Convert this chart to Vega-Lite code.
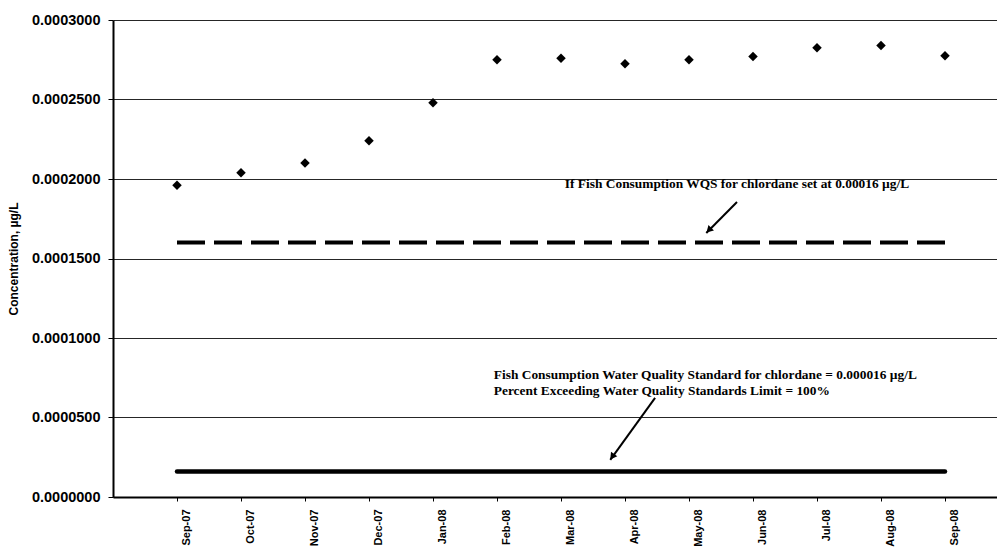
{
  "$schema": "https://vega.github.io/schema/vega-lite/v6.json",
  "width": 896,
  "height": 477,
  "autosize": {"type": "none"},
  "padding": {"left": 113, "top": 20, "right": 0, "bottom": 53},
  "background": "white",
  "config": {"view": {"stroke": null}, "font": "Liberation Sans"},
  "datasets": {
    "conc": [
      {"month": "Sep-07", "conc": 0.000196, "alt": 0.00016, "std": 0.000016},
      {"month": "Oct-07", "conc": 0.000204, "alt": 0.00016, "std": 0.000016},
      {"month": "Nov-07", "conc": 0.000210, "alt": 0.00016, "std": 0.000016},
      {"month": "Dec-07", "conc": 0.000224, "alt": 0.00016, "std": 0.000016},
      {"month": "Jan-08", "conc": 0.000248, "alt": 0.00016, "std": 0.000016},
      {"month": "Feb-08", "conc": 0.000275, "alt": 0.00016, "std": 0.000016},
      {"month": "Mar-08", "conc": 0.000276, "alt": 0.00016, "std": 0.000016},
      {"month": "Apr-08", "conc": 0.0002725, "alt": 0.00016, "std": 0.000016},
      {"month": "May-08", "conc": 0.000275, "alt": 0.00016, "std": 0.000016},
      {"month": "Jun-08", "conc": 0.000277, "alt": 0.00016, "std": 0.000016},
      {"month": "Jul-08", "conc": 0.0002825, "alt": 0.00016, "std": 0.000016},
      {"month": "Aug-08", "conc": 0.000284, "alt": 0.00016, "std": 0.000016},
      {"month": "Sep-08", "conc": 0.0002775, "alt": 0.00016, "std": 0.000016}
    ],
    "notes": [
      {"text": "If Fish Consumption WQS for chlordane set at 0.00016 µg/L", "u": 6.06, "v": 0.000197},
      {"text": "Fish Consumption Water Quality Standard for chlordane = 0.000016 µg/L", "u": 4.95, "v": 0.0000767},
      {"text": "Percent Exceeding  Water Quality Standards Limit = 100%", "u": 4.95, "v": 0.0000667}
    ],
    "arrows": [
      {"id": "a1", "u": 8.75, "v": 0.0001855, "u2": 8.27, "v2": 0.000166},
      {"id": "a2", "u": 7.47, "v": 0.0000623, "u2": 6.77, "v2": 0.0000233}
    ],
    "heads": [
      {"id": "a1", "u": 8.31, "v": 0.0001678},
      {"id": "a2", "u": 6.80, "v": 0.0000253}
    ]
  },
  "layer": [
    {
      "data": {"name": "conc"},
      "encoding": {
        "x": {
          "field": "month", "type": "nominal", "sort": null,
          "scale": {"type": "point", "padding": 1},
          "axis": {
            "title": null, "labelAngle": -90, "labelAlign": "right", "labelBaseline": "middle",
            "labelFont": "Liberation Sans", "labelFontSize": 11, "labelFontWeight": "bold", "labelColor": "black",
            "labelPadding": 8, "labelOffset": 9, "tickSize": 4, "tickColor": "black",
            "domainColor": "black", "domainWidth": 2, "grid": false
          }
        }
      },
      "layer": [
        {
          "mark": {"type": "line", "color": "black", "strokeWidth": 4, "strokeDash": [28, 9], "strokeCap": "butt"},
          "encoding": {
            "y": {"field": "alt", "type": "quantitative", "title": "Concentration, µg/L",
              "scale": {"domain": [0, 0.0003], "nice": false, "zero": true}}
          }
        },
        {
          "mark": {"type": "line", "color": "black", "strokeWidth": 4.5, "strokeCap": "round"},
          "encoding": {
            "y": {"field": "std", "type": "quantitative", "title": "Concentration, µg/L"}
          }
        },
        {
          "mark": {"type": "point", "shape": "diamond", "filled": true, "color": "black", "size": 90, "opacity": 1},
          "encoding": {
            "y": {
              "field": "conc", "type": "quantitative", "title": "Concentration, µg/L",
              "axis": {
                "title": "Concentration, µg/L", "format": ".7f",
                "values": [0, 0.00005, 0.0001, 0.00015, 0.0002, 0.00025, 0.0003],
                "grid": true, "gridColor": "black", "gridWidth": 1, "gridOpacity": 0.85,
                "domainColor": "black", "domainWidth": 2, "tickColor": "black", "tickSize": 5,
                "labelFont": "Liberation Sans", "labelFontWeight": "bold", "labelFontSize": 14.5, "labelColor": "black",
                "labelPadding": 8, "titleFont": "Liberation Sans", "titleFontSize": 12, "titleFontWeight": "bold",
                "titleColor": "black", "titlePadding": 11
              }
            }
          }
        }
      ]
    },
    {
      "encoding": {
        "x": {"field": "u", "type": "quantitative", "scale": {"domain": [-1, 13], "nice": false, "zero": false}, "axis": null},
        "y": {"field": "v", "type": "quantitative", "title": "Concentration, µg/L"}
      },
      "layer": [
        {
          "data": {"name": "notes"},
          "mark": {"type": "text", "align": "left", "baseline": "middle", "font": "Liberation Serif", "fontWeight": "bold", "fontSize": 13.4, "color": "black"},
          "encoding": {"text": {"field": "text"}}
        },
        {
          "data": {"name": "arrows"},
          "mark": {"type": "rule", "color": "black", "strokeWidth": 2},
          "encoding": {"x2": {"field": "u2"}, "y2": {"field": "v2"}}
        },
        {
          "data": {"name": "heads"},
          "transform": [{"filter": "datum.id == 'a1'"}],
          "mark": {"type": "point", "shape": "triangle-down", "filled": true, "color": "black", "size": 60, "angle": 45, "opacity": 1}
        },
        {
          "data": {"name": "heads"},
          "transform": [{"filter": "datum.id == 'a2'"}],
          "mark": {"type": "point", "shape": "triangle-down", "filled": true, "color": "black", "size": 60, "angle": 36, "opacity": 1}
        }
      ]
    }
  ],
  "resolve": {"scale": {"x": "independent"}}
}
